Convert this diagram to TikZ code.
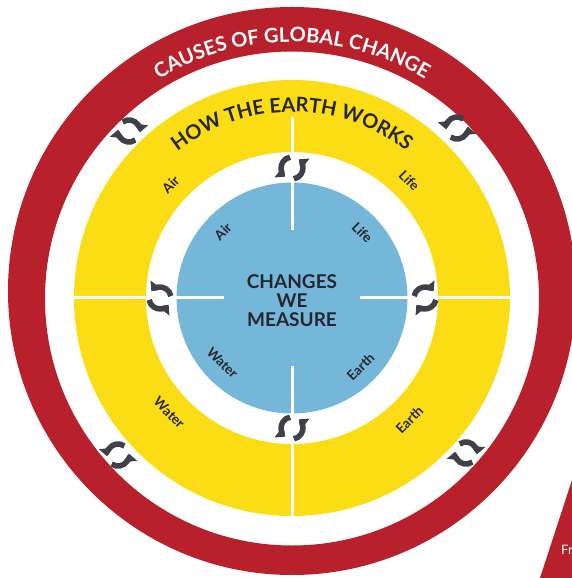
\documentclass[tikz,border=0pt]{standalone}
\usepackage{fontspec}
\setmainfont{Lato}
\usetikzlibrary{arrows.meta,decorations.text}
\definecolor{causered}{RGB}{184,32,43}
\definecolor{earthyellow}{RGB}{250,221,20}
\definecolor{measureblue}{RGB}{117,183,217}
\definecolor{arrowgrey}{RGB}{64,64,72}
\definecolor{labeldark}{RGB}{38,38,46}
\tikzset{
  sphere/.style={font=\bfseries\fontsize{13.5}{15}\selectfont, text=labeldark, inner sep=0pt},
  divider/.style={white, line width=3pt},
  swaparrow/.style={arrowgrey, line width=5.5pt, -{Triangle[width=14pt,length=8pt]}},
  swaparrows/.pic={
    \draw[swaparrow] (100:11) arc[start angle=100, end angle=232, radius=11];
    \draw[swaparrow] (280:11) arc[start angle=280, end angle=412, radius=11];
  }
}
\begin{document}
\begin{tikzpicture}[x=1pt,y=1pt]
  \useasboundingbox (-292,-280) rectangle (280,298);
  \fill[white] (-292,-280) rectangle (280,298);
  \fill[causered, even odd rule] (0,7) circle (284) (0,-0.5) circle (247);
  \fill[causered] (280,-182) -- (248,-280) -- (290,-280) -- (290,-182) -- cycle;
  \node[anchor=base west, white, font=\fontsize{13}{15}\selectfont, inner sep=0pt] (fr) at (269,-256) {Fr};
  \fill[earthyellow, even odd rule] (0,0) circle (218) (0,0) circle (146);
  \fill[measureblue] (0,0) circle (115.5);
  \begin{scope}[divider]
    \foreach \a in {0,180,270}
      \draw (\a:146) -- (\a:218);
    \draw (90:146) -- (90:181);
    \foreach \a in {0,90,180,270}
      \draw (\a:68) -- (\a:116);
  \end{scope}
  \path[decorate, decoration={text along path, text align=center,
      text={|\color{white}\bfseries\fontsize{20}{24}\selectfont|CAUSES OF GLOBAL CHANGE}}]
    (150:256) arc[start angle=150, end angle=30, radius=256];
  \path[decorate, decoration={text along path, text align=center,
      text={|\color{labeldark}\bfseries\fontsize{20}{24}\selectfont|HOW THE EARTH WORKS}}]
    (150:186) arc[start angle=150, end angle=30, radius=186];
  \draw
    (137:166) node[sphere, rotate=45] (airworks){Air}
    (45:166) node[sphere, rotate=-45] (lifeworks){Life}
    (223:168) node[sphere, rotate=-45] (waterworks){Water}
    (314:169) node[sphere, rotate=45] (earthworks){Earth}
    (136:96) node[sphere, rotate=45] (airmeasure){Air}
    (43:96) node[sphere, rotate=-45] (lifemeasure){Life}
    (223:95) node[sphere, rotate=-45] (watermeasure){Water}
    (315:97) node[sphere, rotate=45] (earthmeasure){Earth};
  \node[font=\bfseries\fontsize{19}{19}\selectfont, text=labeldark, align=center] (measure) at (0,-3) {CHANGES\\WE\\MEASURE};
  \pic at (0,130) {swaparrows};
  \pic at (0,-130) {swaparrows};
  \pic[rotate=90] at (-132,0) {swaparrows};
  \pic[rotate=90, xscale=-1] at (133,0) {swaparrows};
  \pic[rotate=45, xscale=-1] at (-163,167) {swaparrows};
  \pic[rotate=-45] at (165,170) {swaparrows};
  \pic[rotate=-45] at (-174,-157) {swaparrows};
  \pic[rotate=45, xscale=-1] at (174,-155) {swaparrows};
\end{tikzpicture}
\end{document}
